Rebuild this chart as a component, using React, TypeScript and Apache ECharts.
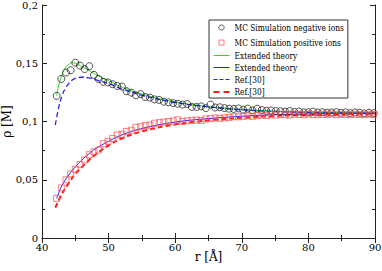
import React, { useEffect, useRef } from "react";
import * as echarts from "echarts";

const rMC = [42.2, 42.9, 43.6, 44.3, 45.0, 45.7, 46.4, 47.1, 47.8, 48.5, 49.2, 49.9, 50.6, 51.3, 52.0, 52.7, 53.4, 54.1, 54.8, 55.5, 56.2, 56.9, 57.6, 58.3, 59.0, 59.7, 60.4, 61.1, 61.8, 62.5, 63.2, 63.9, 64.6, 65.3, 66.0, 66.7, 67.4, 68.1, 68.8, 69.5, 70.2, 70.9, 71.6, 72.3, 73.0, 73.7, 74.4, 75.1, 75.8, 76.5, 77.2, 77.9, 78.6, 79.3, 80.0, 80.7, 81.4, 82.1, 82.8, 83.5, 84.2, 84.9, 85.6, 86.3, 87.0, 87.7, 88.4, 89.1, 89.8];

const negMC = [0.122, 0.1365, 0.142, 0.144, 0.1505, 0.148, 0.145, 0.1475, 0.140, 0.1365, 0.134, 0.1335, 0.132, 0.1305, 0.130, 0.126, 0.1248, 0.1225, 0.1235, 0.121, 0.1205, 0.119, 0.1185, 0.117, 0.1165, 0.1158, 0.1152, 0.1145, 0.115, 0.1125, 0.1125, 0.113, 0.1115, 0.1145, 0.112, 0.1122, 0.1115, 0.111, 0.1108, 0.1112, 0.1102, 0.111, 0.1095, 0.111, 0.1098, 0.1092, 0.1095, 0.109, 0.1088, 0.1085, 0.109, 0.1082, 0.1085, 0.1078, 0.108, 0.1085, 0.1078, 0.108, 0.1075, 0.1078, 0.108, 0.1075, 0.1078, 0.1072, 0.1078, 0.1075, 0.107, 0.1075, 0.1072];

const posMC = [0.034, 0.043, 0.050, 0.055, 0.059, 0.063, 0.067, 0.0715, 0.074, 0.0755, 0.081, 0.083, 0.0855, 0.0885, 0.089, 0.0915, 0.0925, 0.095, 0.0955, 0.0965, 0.097, 0.0985, 0.099, 0.0995, 0.100, 0.1005, 0.1015, 0.1, 0.1005, 0.101, 0.1012, 0.1008, 0.1022, 0.1025, 0.103, 0.1028, 0.1032, 0.1035, 0.1042, 0.104, 0.1045, 0.1048, 0.1045, 0.105, 0.1055, 0.1052, 0.1058, 0.1055, 0.106, 0.1058, 0.1055, 0.1062, 0.106, 0.1058, 0.1065, 0.106, 0.1058, 0.1062, 0.106, 0.1065, 0.1058, 0.1062, 0.106, 0.1058, 0.1062, 0.106, 0.1058, 0.1062, 0.106];

const rGreen = [42.2, 42.5, 43, 43.5, 44, 44.5, 45, 46, 47, 48, 50, 52, 55, 60, 65, 70, 75, 80, 85, 90];
const greenV = [0.122, 0.131, 0.140, 0.146, 0.149, 0.1505, 0.150, 0.147, 0.144, 0.1405, 0.135, 0.1295, 0.1235, 0.1168, 0.1128, 0.1103, 0.1088, 0.108, 0.1075, 0.1072];

const rBlueDash = [42.0, 42.5, 43, 43.5, 44, 44.5, 45, 46, 47, 48, 50, 52, 55, 60, 65, 70, 75, 80, 85, 90];
const blueDashV = [0.097, 0.112, 0.122, 0.1285, 0.1325, 0.1355, 0.137, 0.138, 0.1375, 0.136, 0.1325, 0.128, 0.1225, 0.1163, 0.1125, 0.110, 0.1086, 0.1078, 0.1073, 0.107];

const rBlue = [42.2, 43, 44, 45, 46, 47, 48, 50, 52, 55, 60, 65, 70, 75, 80, 85, 90];
const blueV = [0.034, 0.045, 0.054, 0.061, 0.067, 0.072, 0.0765, 0.083, 0.0885, 0.094, 0.0995, 0.1025, 0.1045, 0.1058, 0.1065, 0.107, 0.1072];

const rRedDash = [42.0, 43, 44, 45, 46, 47, 48, 50, 52, 55, 60, 65, 70, 75, 80, 85, 90];
const redDashV = [0.026, 0.038, 0.047, 0.055, 0.061, 0.0665, 0.0715, 0.0795, 0.0855, 0.0915, 0.0975, 0.101, 0.1032, 0.1048, 0.1058, 0.1064, 0.1068];

const legendNames = [
  "MC Simulation negative ions",
  "MC Simulation positive ions",
  "Extended theory",
  "Extended theory ",
  "Ref.[30]",
  "Ref.[30] ",
];

const FONT = "DejaVu Serif";
const GREEN = "#22dd22";
const BLUE = "#2222ff";
const RED = "#ff1a1a";

const BOX = "M0,0 M16,8 ";
const legendIcons = [
  "path://" + BOX + "M8,1.4 A2.6,2.6 0 1 1 7.99,1.4 Z",
  "path://" + BOX + "M5.5,1.5 L10.5,1.5 L10.5,6.5 L5.5,6.5 Z",
  "path://" + BOX + "M0,3 L16,3 L16,4 L0,4 Z",
  "path://" + BOX + "M0,3 L16,3 L16,4 L0,4 Z",
  "path://" + BOX + "M0,3 L4,3 L4,4 L0,4 Z M6,3 L10,3 L10,4 L6,4 Z M12,3 L16,3 L16,4 L12,4 Z",
  "path://" + BOX + "M0,3 L6,3 L6,5 L0,5 Z M10,3 L16,3 L16,5 L10,5 Z",
];

const zip = (xs: number[], ys: number[]) => xs.map((x, i) => [x, ys[i]]);

export default function App() {
  const ref = useRef<HTMLDivElement>(null);
  useEffect(() => {
    document.body.style.margin = "0";
    const chart = echarts.init(ref.current!, undefined, { renderer: "svg" });
    const axisLine = { show: true, lineStyle: { color: "#222", width: 1 } };
    const tick = { show: true, inside: true, length: 5, lineStyle: { color: "#222" } };
    const minor = { show: true, splitNumber: 2, length: 3, lineStyle: { color: "#222" } };
    const fmtY = (v: number) => (v === 0 ? "0" : String(+v.toFixed(3)).replace(".", ","));
    const lineItem = (c: string) => ({ color: c, borderColor: c, borderWidth: 0, opacity: 1 });
    chart.setOption({
      animation: false,
      backgroundColor: "#fff",
      textStyle: { fontFamily: FONT },
      grid: { left: 42, right: 7, top: 5, bottom: 33, outerBoundsMode: "none", containLabel: false },
      legend: {
        orient: "vertical",
        left: 209,
        top: 20,
        padding: [1, 4, 1, 2],
        itemGap: 2,
        itemWidth: 16,
        itemHeight: 8,
        backgroundColor: "#fff",
        borderColor: "#333",
        borderWidth: 1,
        borderRadius: 0,
        itemStyle: { borderWidth: 0 },
        textStyle: { fontFamily: "DejaVu Serif Condensed", fontSize: 8.3, lineHeight: 10, color: "#000" },
        data: [
          { name: legendNames[0], icon: legendIcons[0], itemStyle: { color: "none", borderColor: "#111", borderWidth: 0.9 } },
          { name: legendNames[1], icon: legendIcons[1], itemStyle: { color: "none", borderColor: "#ff5050", borderWidth: 0.9 } },
          { name: legendNames[2], icon: legendIcons[2], itemStyle: lineItem(GREEN) },
          { name: legendNames[3], icon: legendIcons[3], itemStyle: lineItem(BLUE) },
          { name: legendNames[4], icon: legendIcons[4], itemStyle: lineItem(BLUE) },
          { name: legendNames[5], icon: legendIcons[5], itemStyle: lineItem(RED) },
        ],
        formatter: (n: string) => n.trim(),
      },
      xAxis: [
        {
          type: "value",
          min: 40,
          max: 90,
          interval: 10,
          name: "r [Å]",
          nameLocation: "middle",
          nameGap: 13,
          nameMoveOverlap: false,
          nameTextStyle: { fontFamily: FONT, fontSize: 12, color: "#000" },
          axisLine,
          axisTick: tick,
          minorTick: minor,
          axisLabel: { fontFamily: FONT, fontSize: 10, color: "#000", margin: 4 },
          splitLine: { show: false },
        },
        {
          type: "value",
          position: "top",
          min: 40,
          max: 90,
          interval: 10,
          axisLine,
          axisTick: tick,
          minorTick: minor,
          axisLabel: { show: false },
          splitLine: { show: false },
        },
      ],
      yAxis: [
        {
          type: "value",
          min: 0,
          max: 0.2,
          interval: 0.05,
          name: "ρ [M]",
          nameLocation: "middle",
          nameGap: 29,
          nameMoveOverlap: false,
          nameTextStyle: { fontFamily: FONT, fontSize: 12, color: "#000" },
          axisLine,
          axisTick: tick,
          minorTick: minor,
          axisLabel: { fontFamily: FONT, fontSize: 10, lineHeight: 10, color: "#000", margin: 4, formatter: fmtY },
          splitLine: { show: false },
        },
        {
          type: "value",
          position: "right",
          min: 0,
          max: 0.2,
          interval: 0.05,
          axisLine,
          axisTick: tick,
          minorTick: minor,
          axisLabel: { show: false },
          splitLine: { show: false },
        },
      ],
      series: [
        {
          name: legendNames[2],
          type: "line",
          data: zip(rGreen, greenV),
          smooth: 0.4,
          symbol: "none",
          color: GREEN,
          lineStyle: { color: GREEN, width: 1 },
          itemStyle: { color: GREEN },
          z: 2,
        },
        {
          name: legendNames[3],
          type: "line",
          data: zip(rBlue, blueV),
          smooth: 0.4,
          symbol: "none",
          color: BLUE,
          lineStyle: { color: BLUE, width: 1 },
          itemStyle: { color: BLUE },
          z: 2,
        },
        {
          name: legendNames[4],
          type: "line",
          data: zip(rBlueDash, blueDashV),
          smooth: 0.4,
          symbol: "none",
          color: BLUE,
          lineStyle: { color: BLUE, width: 1.3, type: [5, 3] },
          itemStyle: { color: BLUE },
          z: 2,
        },
        {
          name: legendNames[5],
          type: "line",
          data: zip(rRedDash, redDashV),
          smooth: 0.4,
          symbol: "none",
          color: RED,
          lineStyle: { color: RED, width: 2, type: [5, 3] },
          itemStyle: { color: RED },
          z: 2,
        },
        {
          name: legendNames[0],
          type: "scatter",
          data: zip(rMC, negMC),
          symbol: "circle",
          symbolSize: 7,
          itemStyle: { color: "none", borderColor: "#111", borderWidth: 0.9 },
          z: 3,
        },
        {
          name: legendNames[1],
          type: "scatter",
          data: zip(rMC, posMC),
          symbol: "rect",
          symbolSize: 6,
          itemStyle: { color: "none", borderColor: "#ff5050", borderWidth: 0.9 },
          z: 3,
        },
      ],
    });
    return () => chart.dispose();
  }, []);
  return <div ref={ref} style={{ width: 382, height: 271 }} />;
}
